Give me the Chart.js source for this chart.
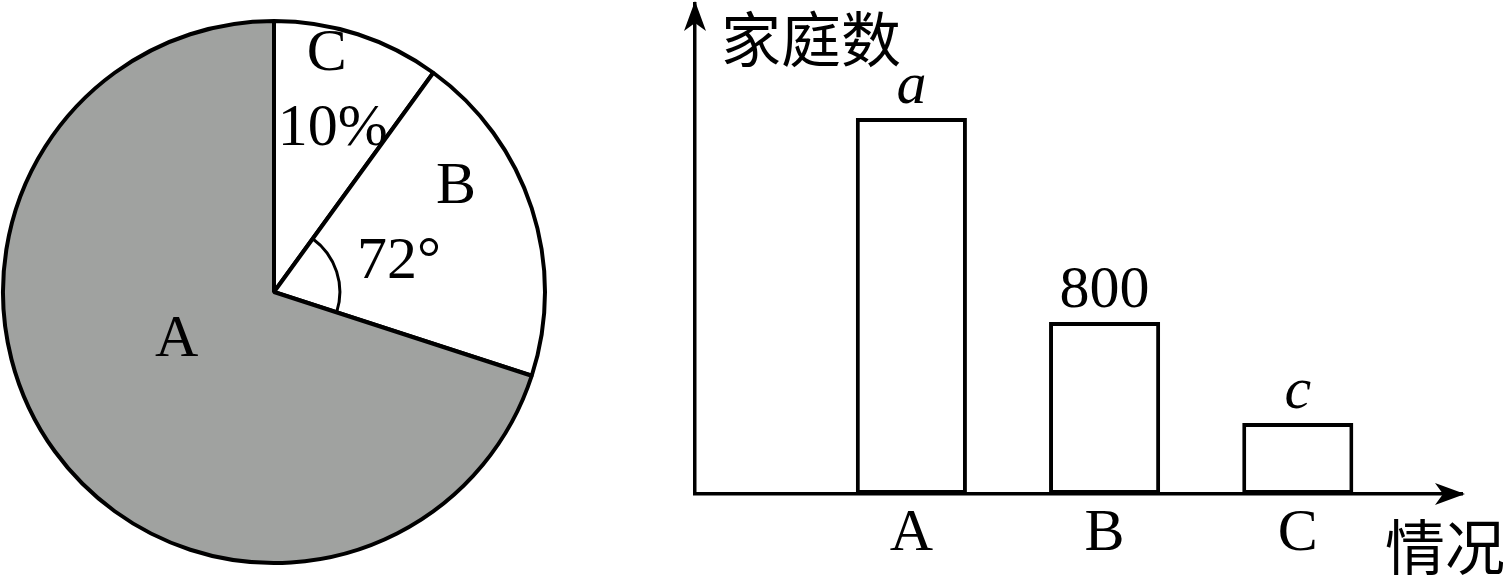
<!DOCTYPE html>
<html><head><meta charset="utf-8">
<script src="https://cdn.jsdelivr.net/npm/chart.js@4"></script>
<style>
html,body{margin:0;padding:0;background:#fff;width:1507px;height:578px;overflow:hidden}
canvas{position:absolute;top:0}
#pie{left:0}
#bar{left:560px}
</style></head><body>
<canvas id="pie" width="548" height="578"></canvas>
<canvas id="bar" width="947" height="578"></canvas>
<script>
// ---- data ----
const categories = ['A', 'B', 'C'];
const sharePercent = [70, 20, 10];          // pie shares (%)
const familyCounts = [1750, 800, 330];      // bar heights as drawn
const barLabels = ['a', '800', 'c'];        // labels printed above the bars
const yAxisTitle = '家庭数';
const xAxisTitle = '情况';
const yMax = 2280;

// ---- styles ----
const SERIF = '"Liberation Serif", "Times New Roman", serif';
const CJK = '"Noto Sans CJK SC", "Noto Sans CJK JP", sans-serif';
const FS = 60;
const GRAY = '#a0a2a0';

// Pie: drawn clockwise from the top in the order C, B, A
const pieCats = categories.slice().reverse();
const pieVals = sharePercent.slice().reverse();
const pieFill = pieCats.map(c => c === 'A' ? GRAY : '#ffffff');

// text placement inside each slice: [fraction of slice angle, fraction of radius]
const piePlace = {
  A: { name: [0.539, 0.40] },
  B: { name: [0.333, 0.776], extra: [0.5625, 0.474] },
  C: { name: [0.347, 0.90], extra: [0.55, 0.64] }
};
function extraText(cat, pct) {
  if (cat === 'B') return Math.round(pct * 3.6) + '°';
  if (cat === 'C') return pct + '%';
  return null;
}

const pieLabelPlugin = {
  id: 'pieLabels',
  afterDatasetsDraw(chart) {
    const ctx = chart.ctx;
    const meta = chart.getDatasetMeta(0);
    ctx.save();
    ctx.fillStyle = '#000';
    ctx.strokeStyle = '#000';
    ctx.textAlign = 'center';
    ctx.textBaseline = 'middle';
    ctx.font = FS + 'px ' + SERIF;
    meta.data.forEach((arc, i) => {
      const p = arc.getProps(['x', 'y', 'startAngle', 'endAngle', 'outerRadius'], true);
      const cat = pieCats[i];
      const pl = piePlace[cat];
      const at = (f) => {
        const a = p.startAngle + (p.endAngle - p.startAngle) * f[0];
        const r = p.outerRadius * f[1];
        return [p.x + Math.cos(a) * r, p.y + Math.sin(a) * r];
      };
      const [nx, ny] = at(pl.name);
      ctx.fillText(cat, nx, ny);
      const ex = extraText(cat, pieVals[i]);
      if (ex && pl.extra) {
        const [ex1, ey1] = at(pl.extra);
        ctx.fillText(ex, ex1, ey1);
      }
      if (cat === 'B') {
        ctx.beginPath();
        ctx.lineWidth = 3;
        ctx.arc(p.x, p.y, p.outerRadius * 0.243, p.startAngle, p.endAngle);
        ctx.stroke();
      }
    });
    ctx.restore();
  }
};

new Chart(document.getElementById('pie'), {
  type: 'pie',
  data: {
    labels: pieCats,
    datasets: [{
      data: pieVals,
      backgroundColor: pieFill,
      borderColor: '#000',
      borderWidth: 4,
      radius: 271
    }]
  },
  options: {
    responsive: false,
    animation: false,
    events: [],
    layout: { padding: { top: 6, bottom: 0, left: 0, right: 0 } },
    plugins: { legend: { display: false }, tooltip: { enabled: false } }
  },
  plugins: [pieLabelPlugin]
});

// ---- bar chart ----
const barDecor = {
  id: 'barDecor',
  afterDraw(chart) {
    const ctx = chart.ctx;
    const ca = chart.chartArea;
    ctx.save();
    ctx.fillStyle = '#000';
    // x arrow
    let tx = ca.right + 3, ty = ca.bottom;
    ctx.beginPath();
    ctx.moveTo(tx, ty);
    ctx.lineTo(tx - 30, ty - 11);
    ctx.lineTo(tx - 22, ty);
    ctx.lineTo(tx - 30, ty + 11);
    ctx.closePath();
    ctx.fill();
    // y arrow
    tx = ca.left; ty = ca.top - 3;
    ctx.beginPath();
    ctx.moveTo(tx, ty);
    ctx.lineTo(tx - 11, ty + 30);
    ctx.lineTo(tx, ty + 22);
    ctx.lineTo(tx + 11, ty + 30);
    ctx.closePath();
    ctx.fill();
    // value labels
    const meta = chart.getDatasetMeta(0);
    ctx.textAlign = 'center';
    ctx.textBaseline = 'alphabetic';
    meta.data.forEach((bar, i) => {
      const lab = barLabels[i];
      const italic = isNaN(Number(lab));
      ctx.font = (italic ? 'italic ' : '') + FS + 'px ' + SERIF;
      ctx.fillText(lab, bar.x, bar.y - 15);
    });
    // axis titles
    ctx.font = FS + 'px ' + CJK;
    ctx.textBaseline = 'middle';
    ctx.textAlign = 'left';
    ctx.fillText(yAxisTitle, ca.left + 26, ca.top + 35);
    ctx.textAlign = 'right';
    ctx.fillText(xAxisTitle, ca.right + 43, ca.bottom + 53);
    ctx.restore();
  }
};

new Chart(document.getElementById('bar'), {
  type: 'bar',
  data: {
    datasets: [{
      data: familyCounts.map((v, i) => ({ x: i + 1, y: v })),
      backgroundColor: '#ffffff',
      borderColor: '#000',
      borderWidth: 4,
      borderSkipped: false,
      categoryPercentage: 1,
      barPercentage: 0.575
    }]
  },
  options: {
    responsive: false,
    animation: false,
    events: [],
    layout: { padding: { top: 4, bottom: 0, left: 135, right: 45 } },
    plugins: { legend: { display: false }, tooltip: { enabled: false } },
    scales: {
      x: {
        type: 'linear',
        offset: false,
        bounds: 'data',
        min: -0.12,
        max: 3.85,
        afterBuildTicks: s => { s.ticks = categories.map((c, i) => ({ value: i + 1 })); },
        afterFit: s => { s.height = 84; },
        ticks: {
          autoSkip: false,
          maxRotation: 0,
          padding: 4,
          color: '#000',
          font: { family: SERIF, size: FS },
          callback: v => categories[v - 1]
        },
        grid: { display: false, drawTicks: false },
        border: { display: true, color: '#000', width: 3.5 }
      },
      y: {
        min: 0,
        max: yMax,
        afterFit: s => { s.width = 0; },
        ticks: { display: false },
        grid: { display: false, drawTicks: false },
        border: { display: true, color: '#000', width: 3.5 }
      }
    }
  },
  plugins: [barDecor]
});
</script>
</body></html>
